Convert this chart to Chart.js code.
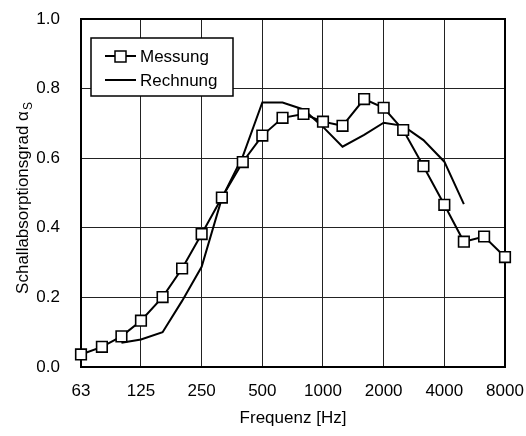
<!DOCTYPE html>
<html>
<head>
<meta charset="utf-8">
<script src="https://cdn.jsdelivr.net/npm/chart.js@4"></script>
<style>
  html, body { margin: 0; padding: 0; background: #fff; }
  #wrap { width: 526px; height: 436px; }
</style>
</head>
<body>
<div id="wrap"><canvas id="absChart" width="526" height="436"></canvas></div>
<script>
// third-octave band centre frequencies [Hz]
const freqMessung = [63, 80, 100, 125, 160, 200, 250, 315, 400, 500, 630, 800,
                     1000, 1250, 1600, 2000, 2500, 3150, 4000, 5000, 6300, 8000];
const alphaMessung = [0.036, 0.058, 0.088, 0.133, 0.201, 0.283, 0.382, 0.487, 0.589, 0.665, 0.716, 0.727,
                      0.705, 0.693, 0.770, 0.745, 0.681, 0.577, 0.466, 0.360, 0.375, 0.316];

const freqRechnung = [100, 125, 160, 200, 250, 315, 400, 500, 630, 800,
                      1000, 1250, 1600, 2000, 2500, 3150, 4000, 5000];
const alphaRechnung = [0.070, 0.079, 0.100, 0.190, 0.288, 0.485, 0.605, 0.760, 0.760, 0.740,
                       0.690, 0.633, 0.667, 0.702, 0.693, 0.652, 0.590, 0.468];

const xTicks = [63, 125, 250, 500, 1000, 2000, 4000, 8000];
const yTicks = [0, 0.2, 0.4, 0.6, 0.8, 1.0];

const FONT = 'Liberation Sans, Arial, sans-serif';
Chart.defaults.font.family = FONT;
Chart.defaults.color = '#000';

const toXY = (xs, ys) => xs.map((f, i) => ({ x: f, y: ys[i] }));

// box around the plot area
const frame = {
  id: 'frame',
  beforeDatasetsDraw(chart) {
    const { ctx, chartArea: a } = chart;
    ctx.save();
    ctx.strokeStyle = '#000';
    ctx.lineWidth = 2;
    ctx.strokeRect(a.left, a.top, a.right - a.left, a.bottom - a.top);
    ctx.restore();
  }
};

// vertical y title with subscript S
const yTitle = {
  id: 'yTitle',
  afterDraw(chart) {
    const { ctx, chartArea: a } = chart;
    const main = 'Schallabsorptionsgrad α';
    ctx.save();
    ctx.font = '17px ' + FONT;
    const w1 = ctx.measureText(main).width;
    ctx.font = '12px ' + FONT;
    const w2 = ctx.measureText('S').width;
    const total = w1 + w2 + 1;
    ctx.translate(28, (a.top + a.bottom) / 2 + 5);
    ctx.rotate(-Math.PI / 2);
    ctx.fillStyle = '#000';
    ctx.textBaseline = 'alphabetic';
    ctx.textAlign = 'left';
    ctx.font = '17px ' + FONT;
    ctx.fillText(main, -total / 2, 0);
    ctx.font = '12px ' + FONT;
    ctx.fillText('S', -total / 2 + w1 + 1, 4);
    ctx.restore();
  }
};

// legend box in upper left corner
const legendBox = {
  id: 'legendBox',
  afterDraw(chart) {
    const { ctx } = chart;
    const bx = 91, by = 38, bw = 142, bh = 58;
    ctx.save();
    ctx.fillStyle = '#fff';
    ctx.fillRect(bx, by, bw, bh);
    ctx.strokeStyle = '#000';
    ctx.lineWidth = 1.5;
    ctx.strokeRect(bx, by, bw, bh);

    ctx.lineWidth = 2;
    ctx.beginPath();
    ctx.moveTo(105, 56); ctx.lineTo(136, 56);
    ctx.moveTo(105, 80); ctx.lineTo(136, 80);
    ctx.stroke();
    ctx.fillStyle = '#fff';
    ctx.fillRect(115, 51, 11, 11);
    ctx.lineWidth = 1.5;
    ctx.strokeRect(115, 51, 11, 11);

    ctx.fillStyle = '#000';
    ctx.font = '17px ' + FONT;
    ctx.textBaseline = 'middle';
    ctx.fillText('Messung', 140, 57);
    ctx.fillText('Rechnung', 140, 81);
    ctx.restore();
  }
};

new Chart(document.getElementById('absChart'), {
  type: 'line',
  data: {
    datasets: [{
      label: 'Messung',
      data: toXY(freqMessung, alphaMessung),
      borderColor: '#000',
      borderWidth: 2,
      pointStyle: 'rect',
      pointRadius: 7.5,
      pointBorderWidth: 1.6,
      pointBackgroundColor: '#fff',
      pointBorderColor: '#000',
      tension: 0,
      clip: false
    }, {
      label: 'Rechnung',
      data: toXY(freqRechnung, alphaRechnung),
      borderColor: '#000',
      borderWidth: 2,
      pointRadius: 0,
      tension: 0
    }]
  },
  options: {
    responsive: false,
    animation: false,
    layout: { autoPadding: false, padding: { top: 19, right: 21, left: 0, bottom: 0 } },
    plugins: {
      legend: { display: false },
      tooltip: { enabled: false }
    },
    scales: {
      x: {
        type: 'logarithmic',
        min: 63,
        max: 8000,
        afterBuildTicks: axis => { axis.ticks = xTicks.map(v => ({ value: v })); },
        afterFit: scale => { scale.height = 69; },
        ticks: {
          font: { size: 17 },
          padding: 1,
          maxRotation: 0,
          autoSkip: false,
          callback: v => String(v)
        },
        // invisible tick marks push the labels away from the frame
        grid: { color: '#222', lineWidth: 1, drawTicks: true, tickLength: 13, tickColor: 'rgba(0,0,0,0)' },
        border: { display: false },
        title: {
          display: true,
          text: 'Frequenz [Hz]',
          font: { size: 17 },
          padding: { top: 2, bottom: 7 }
        }
      },
      y: {
        min: 0,
        max: 1.0,
        afterBuildTicks: axis => { axis.ticks = yTicks.map(v => ({ value: v })); },
        afterFit: scale => { scale.width = 81; },
        ticks: {
          font: { size: 17 },
          padding: 1,
          callback: v => v.toFixed(1)
        },
        grid: { color: '#222', lineWidth: 1, drawTicks: true, tickLength: 20, tickColor: 'rgba(0,0,0,0)' },
        border: { display: false }
      }
    }
  },
  plugins: [frame, yTitle, legendBox]
});
</script>
</body>
</html>
